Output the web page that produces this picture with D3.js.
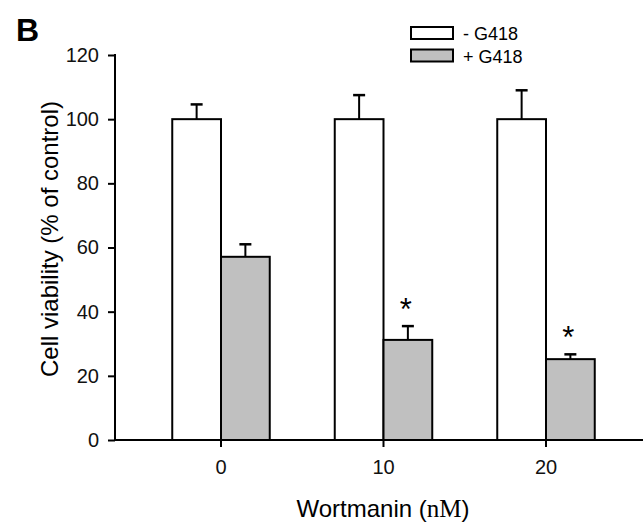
<!DOCTYPE html>
<html>
<head>
<meta charset="utf-8">
<script src="https://cdn.jsdelivr.net/npm/d3@7"></script>
<style>
  body { margin: 0; background: #fff; }
  text { font-family: "Liberation Sans", Arial, sans-serif; }
</style>
</head>
<body>
<div id="chart"></div>
<script>
// data
var doses = ["0", "10", "20"];
var series = ["- G418", "+ G418"];
var minusG418 = [100, 100, 100];
var minusG418Err = [4.6, 7.5, 9.0];
var plusG418 = [57.1, 31.2, 25.2];
var plusG418Err = [3.9, 4.3, 1.5];
var significant = [false, true, true];
var yTicks = [0, 20, 40, 60, 80, 100, 120];
var fills = ["#ffffff", "#c0c0c0"];

var width = 643, height = 522;

var svg = d3.select('#chart').append('svg')
  .attr('width', width).attr('height', height);

var y = d3.scaleLinear().domain([0, 120]).range([440, 55]);

var x = d3.scaleBand().domain(doses)
  .range([139.75, 627.25])
  .paddingInner(0.4).paddingOuter(0.2);

var xs = d3.scaleBand().domain(series).range([0, x.bandwidth()]);

// build rows for the bars
var rows = [];
doses.forEach(function (d, i) {
  rows.push({dose: d, s: series[0], v: minusG418[i], e: minusG418Err[i], star: false});
  rows.push({dose: d, s: series[1], v: plusG418[i], e: plusG418Err[i], star: significant[i]});
});

var g = svg.append('g');

// bars
g.selectAll('rect.bar')
  .data(rows)
  .enter()
  .append('rect')
  .attr('class', 'bar')
  .attr('x', function (d) { return x(d.dose) + xs(d.s); })
  .attr('y', function (d) { return y(d.v); })
  .attr('width', xs.bandwidth())
  .attr('height', function (d) { return y(0) - y(d.v); })
  .attr('fill', function (d) { return fills[series.indexOf(d.s)]; })
  .attr('stroke', '#000')
  .attr('stroke-width', 2);

// error bars (upper only)
var eb = g.selectAll('g.err').data(rows).enter().append('g').attr('class', 'err');
eb.append('line')
  .attr('x1', function (d) { return x(d.dose) + xs(d.s) + xs.bandwidth() / 2; })
  .attr('x2', function (d) { return x(d.dose) + xs(d.s) + xs.bandwidth() / 2; })
  .attr('y1', function (d) { return y(d.v); })
  .attr('y2', function (d) { return y(d.v + d.e); })
  .attr('stroke', '#000').attr('stroke-width', 2);
eb.append('line')
  .attr('x1', function (d) { return x(d.dose) + xs(d.s) + xs.bandwidth() / 2 - 6; })
  .attr('x2', function (d) { return x(d.dose) + xs(d.s) + xs.bandwidth() / 2 + 6; })
  .attr('y1', function (d) { return y(d.v + d.e); })
  .attr('y2', function (d) { return y(d.v + d.e); })
  .attr('stroke', '#000').attr('stroke-width', 2.5);

// asterisks
g.selectAll('text.star')
  .data(rows.filter(function (d) { return d.star; }))
  .enter()
  .append('text')
  .attr('class', 'star')
  .attr('x', function (d) { return x(d.dose) + xs(d.s) + xs.bandwidth() / 2 - 2; })
  .attr('y', function (d) { return y(d.v + d.e) - 6; })
  .attr('text-anchor', 'middle')
  .style('font-size', '31px')
  .text('*');

// axes
var yAxis = svg.append('g')
  .attr('transform', 'translate(115,0)')
  .call(d3.axisLeft(y).tickValues(yTicks).tickSize(7).tickPadding(9));
var xAxis = svg.append('g')
  .attr('transform', 'translate(0,440)')
  .call(d3.axisBottom(x).tickSize(7).tickPadding(13));

[yAxis, xAxis].forEach(function (a) {
  a.select('.domain').remove();
  a.selectAll('line').attr('stroke', '#000').attr('stroke-width', 2);
  a.selectAll('text').style('font-size', '20px').attr('fill', '#111')
    .style('font-family', '"Liberation Sans", Arial, sans-serif');
});

svg.append('line').attr('x1', 115).attr('x2', 115).attr('y1', 54).attr('y2', 441)
  .attr('stroke', '#000').attr('stroke-width', 2);
svg.append('line').attr('x1', 114).attr('x2', 643).attr('y1', 440).attr('y2', 440)
  .attr('stroke', '#000').attr('stroke-width', 2);

// axis titles
svg.append('text')
  .attr('transform', 'translate(58,239) rotate(-90)')
  .attr('text-anchor', 'middle')
  .style('font-size', '24px')
  .text('Cell viability (% of control)');

var xt = svg.append('text')
  .attr('x', 383).attr('y', 517)
  .attr('text-anchor', 'middle')
  .style('font-size', '24px');
xt.append('tspan').text('Wortmanin (');
xt.append('tspan').style('font-family', '"Liberation Serif", "Times New Roman", serif')
  .style('font-size', '25px').text('nM');
xt.append('tspan').text(')');

// panel letter
svg.append('text').attr('x', 16).attr('y', 41)
  .style('font-size', '32px').style('font-weight', 'bold').text('B');

// legend
var leg = svg.selectAll('g.leg').data(series).enter().append('g')
  .attr('class', 'leg')
  .attr('transform', function (d, i) { return 'translate(411,' + (27 + i * 22.5) + ')'; });
leg.append('rect').attr('width', 42).attr('height', 12)
  .attr('fill', function (d, i) { return fills[i]; })
  .attr('stroke', '#000').attr('stroke-width', 2);
leg.append('text').attr('x', 52).attr('y', 13)
  .style('font-size', '18px').text(function (d) { return d; });
</script>
</body>
</html>
